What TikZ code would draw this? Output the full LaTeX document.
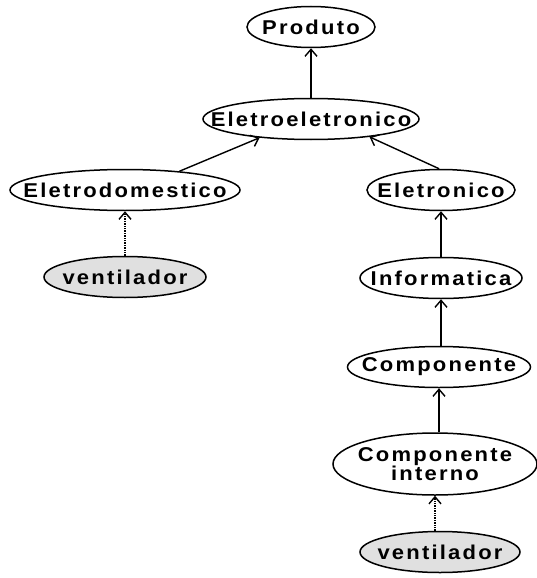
\documentclass[tikz,border=0pt]{standalone}
\usepackage{fontspec}
\setmainfont{Liberation Sans}[FakeStretch=1.1,LetterSpace=11,
  BoldFeatures={FakeStretch=1.1,LetterSpace=11}]
\usetikzlibrary{shapes.geometric,arrows.meta}
\tikzset{
  cls/.style={draw,ellipse,line width=1.5pt,inner xsep=-30pt,inner ysep=0pt,minimum height=41pt,
    font=\fontsize{20}{22}\selectfont\bfseries,fill=white},
  inst/.style={cls,fill=black!12},
  isa/.style={line width=1.4pt,-{Straight Barb[length=7pt,width=12pt,line width=1.4pt]}},
  io/.style={isa,densely dotted}
}
\begin{document}
\begin{tikzpicture}[x=1pt,y=-1pt]
\useasboundingbox (0,0) rectangle (537,578);
% classes
\node[cls,minimum width=128pt] (produto) at (311,27) {Produto};
\node[cls,minimum width=216pt] (eletroeletronico) at (311,119) {Eletroeletronico};
\node[cls,minimum width=230pt] (eletrodomestico) at (125,190) {Eletrodomestico};
\node[cls,minimum width=148pt] (eletronico) at (441,190) {Eletronico};
\node[cls,minimum width=162pt] (informatica) at (441,278) {Informatica};
\node[cls,minimum width=183pt] (componente) at (439,367) {Componente};
\node[cls,minimum width=204pt,minimum height=62pt,align=center] (compinterno) at (435,464)
  {Componente\\[-3pt]interno};
% instances
\node[inst,minimum width=162pt] (ventA) at (125,277) {ventilador};
\node[inst,minimum width=160pt] (ventB) at (440,552) {ventilador};
% subclass links
\draw[isa] (eletroeletronico) -- (produto);
\draw[isa] (eletrodomestico.19) -- (eletroeletronico.200);
\draw[isa] (eletronico.95) -- (eletroeletronico.343);
\draw[isa] (informatica.north -| eletronico) -- (eletronico);
\draw[isa] (componente.north -| informatica) -- (informatica);
\draw[isa] (compinterno.north -| componente) -- (componente);
% instance links
\draw[io] (ventA) -- (eletrodomestico);
\draw[io] (ventB.north -| compinterno) -- (compinterno);
\end{tikzpicture}
\end{document}
